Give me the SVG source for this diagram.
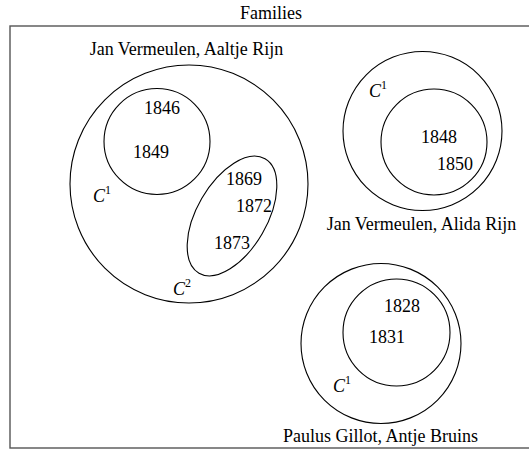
<svg xmlns="http://www.w3.org/2000/svg" width="529" height="450" viewBox="0 0 529 450">
<style>
text{font-family:'Liberation Serif','DejaVu Serif',serif;font-size:18px;fill:#000}
.c{fill:none;stroke:#000;stroke-width:1.1}
.i{font-style:italic}
.sup{font-size:12px;font-style:normal}
.frame{fill:none;stroke:#555;stroke-width:1.4}
</style>
<rect width="529" height="450" fill="#fff"/>
<g font-family="Liberation Serif, DejaVu Serif, serif">
<g id="frame">
<rect class="frame" x="10" y="26" width="530" height="422"/>
<text x="271" y="19" text-anchor="middle">Families</text>
</g>
<g id="family1">
<circle class="c" cx="189" cy="184" r="119"/>
<text x="186.5" y="55" text-anchor="middle">Jan Vermeulen, Aaltje Rijn</text>
<text x="93" y="202"><tspan class="i">C</tspan><tspan class="sup" dy="-8">1</tspan></text>
<text x="173" y="295"><tspan class="i">C</tspan><tspan class="sup" dy="-8">2</tspan></text>
</g>
<g id="c1a">
<circle class="c" cx="157" cy="141.5" r="53"/>
<text x="144" y="114">1846</text>
<text x="133" y="158">1849</text>
</g>
<g id="c2a">
<ellipse class="c" cx="232" cy="216" rx="35" ry="66" transform="rotate(30 232 216)"/>
<text x="226" y="185">1869</text>
<text x="236" y="212">1872</text>
<text x="214" y="249">1873</text>
</g>
<g id="family2">
<circle class="c" cx="422.5" cy="131" r="79.5"/>
<text x="369" y="97"><tspan class="i">C</tspan><tspan class="sup" dy="-8">1</tspan></text>
<text x="421.5" y="230" text-anchor="middle">Jan Vermeulen, Alida Rijn</text>
</g>
<g id="c1b">
<circle class="c" cx="434" cy="142" r="53"/>
<text x="421" y="143">1848</text>
<text x="437" y="170">1850</text>
</g>
<g id="family3">
<circle class="c" cx="381" cy="343.5" r="80"/>
<text x="333" y="392"><tspan class="i">C</tspan><tspan class="sup" dy="-8">1</tspan></text>
<text x="380.5" y="442" text-anchor="middle">Paulus Gillot, Antje Bruins</text>
</g>
<g id="c1c">
<circle class="c" cx="396.5" cy="332.5" r="53.5"/>
<text x="384" y="312">1828</text>
<text x="369" y="343">1831</text>
</g>
<g id="connectors"/>
</g>
</svg>
